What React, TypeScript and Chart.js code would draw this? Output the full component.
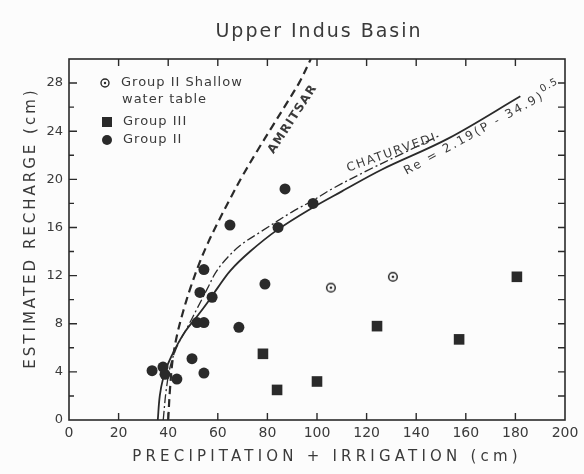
import React, { useEffect, useRef } from 'react';
import { Chart, registerables } from 'chart.js';

Chart.register(...registerables);

// ---- data ----
const xTickValues = [0, 20, 40, 60, 80, 100, 120, 140, 160, 180, 200];
const yTickLabels = [0, 4, 8, 12, 16, 20, 24, 28];

// Group II (filled circles)
const group2X = [33.5, 37.9, 38.7, 43.5, 49.6, 51.6, 54.4, 54.4, 68.5, 52.8, 57.7, 54.4, 79.0, 64.9, 84.3, 87.1, 98.4];
const group2Y = [4.1, 4.4, 3.8, 3.4, 5.1, 8.1, 8.1, 3.9, 7.7, 10.6, 10.2, 12.5, 11.3, 16.2, 16.0, 19.2, 18.0];

// Group III (filled squares)
const group3X = [78.2, 83.9, 100.0, 124.2, 157.3, 180.6];
const group3Y = [5.5, 2.5, 3.2, 7.8, 6.7, 11.9];

// Group II shallow water table (open circles)
const shallowX = [105.6, 130.6];
const shallowY = [11.0, 11.9];

// Fitted curve Re = 2.19(P-34.9)^0.5 (solid)
const fitX = [35.8, 36.6, 38, 40, 43, 47, 52, 56, 60, 65, 73, 84, 97, 110, 126, 153, 182];
const fitY = [0, 2.0, 3.5, 4.7, 6.0, 7.4, 8.7, 9.8, 11.0, 12.4, 14.0, 15.8, 17.5, 19.0, 20.8, 23.4, 26.9];

// Chaturvedi curve (dash-dot)
const chatX = [38, 39.2, 41, 44, 48, 52, 56, 59, 63, 69, 77, 90, 98, 106, 120, 135, 150];
const chatY = [0, 2.5, 4.6, 6.3, 7.8, 9.4, 11.0, 12.2, 13.3, 14.5, 15.6, 17.3, 18.2, 19.2, 20.7, 22.2, 23.7];

// Amritsar curve (dashed)
const amrX = [40, 40.7, 41.8, 43.5, 46, 49, 52.5, 56, 60, 65, 70, 76, 82, 88, 93, 97.5];
const amrY = [0, 2.5, 5, 7, 9, 11, 13, 14.7, 16.4, 18.4, 20.3, 22.4, 24.4, 26.4, 28.1, 30];

const INK = '#2a2a2a';
const TXT = '#3a3a3a';
const FAMILY = '"DejaVu Sans", "Liberation Sans", sans-serif';

function pts(xs: number[], ys: number[]) {
  return xs.map((x, i) => ({ x, y: ys[i] }));
}

function drawText(
  ctx: CanvasRenderingContext2D,
  s: string,
  px: number,
  py: number,
  font: string,
  angle = 0,
  spacing = 0,
  align: CanvasTextAlign = 'center'
) {
  ctx.save();
  ctx.translate(px, py);
  ctx.rotate(angle);
  ctx.font = font;
  (ctx as any).letterSpacing = spacing + 'px';
  ctx.textAlign = align;
  ctx.textBaseline = 'middle';
  ctx.fillStyle = TXT;
  ctx.fillText(s, 0, 0);
  ctx.restore();
}

function makeShallowSymbol(): HTMLCanvasElement {
  const c = document.createElement('canvas');
  c.width = 12;
  c.height = 12;
  const g = c.getContext('2d')!;
  g.strokeStyle = INK;
  g.lineWidth = 1.5;
  g.beginPath();
  g.arc(6, 6, 4.3, 0, Math.PI * 2);
  g.stroke();
  g.fillStyle = INK;
  g.beginPath();
  g.arc(6, 6, 1.3, 0, Math.PI * 2);
  g.fill();
  return c;
}

const annotPlugin = {
  id: 'annot',
  beforeDraw(chart: any) {
    const { ctx, width, height } = chart;
    ctx.save();
    ctx.fillStyle = '#fcfcfc';
    ctx.fillRect(0, 0, width, height);
    ctx.restore();
  },
  afterDraw(chart: any) {
    const { ctx, chartArea: a, scales } = chart;
    const xs = scales.x;
    const ys = scales.y;
    ctx.save();
    ctx.strokeStyle = INK;
    ctx.lineWidth = 1.6;
    ctx.strokeRect(a.left, a.top, a.right - a.left, a.bottom - a.top);
    ctx.lineWidth = 1.4;
    ctx.beginPath();
    xTickValues.forEach((v) => {
      if (v <= 0 || v >= 200) return;
      const px = xs.getPixelForValue(v);
      ctx.moveTo(px, a.bottom);
      ctx.lineTo(px, a.bottom - 7);
      ctx.moveTo(px, a.top);
      ctx.lineTo(px, a.top + 7);
    });
    for (let v = 2; v < 30; v += 2) {
      const py = ys.getPixelForValue(v);
      const l = yTickLabels.includes(v) ? 8 : 5;
      ctx.moveTo(a.left, py);
      ctx.lineTo(a.left + l, py);
      ctx.moveTo(a.right, py);
      ctx.lineTo(a.right - 7, py);
    }
    ctx.stroke();

    // title and axis titles
    drawText(ctx, 'Upper Indus Basin', 319, 32, `19px ${FAMILY}`, 0, 2.0);
    drawText(ctx, 'PRECIPITATION + IRRIGATION (cm)', 327, 457, `15px ${FAMILY}`, 0, 4.2);
    drawText(ctx, 'ESTIMATED RECHARGE (cm)', 31, 228, `15px ${FAMILY}`, -Math.PI / 2, 3.0);

    // legend
    const lf = `13px ${FAMILY}`;
    ctx.strokeStyle = INK;
    ctx.fillStyle = INK;
    ctx.lineWidth = 1.4;
    ctx.beginPath();
    ctx.arc(105, 83, 4, 0, Math.PI * 2);
    ctx.stroke();
    ctx.beginPath();
    ctx.arc(105, 83, 1.2, 0, Math.PI * 2);
    ctx.fill();
    ctx.fillRect(102, 117, 10, 10);
    ctx.beginPath();
    ctx.arc(107, 140, 5, 0, Math.PI * 2);
    ctx.fill();
    drawText(ctx, 'Group II Shallow', 121, 83, lf, 0, 1, 'left');
    drawText(ctx, 'water table', 122, 100, lf, 0, 1, 'left');
    drawText(ctx, 'Group III', 123, 122, lf, 0, 1, 'left');
    drawText(ctx, 'Group II', 123, 140, lf, 0, 1, 'left');

    // curve labels
    drawText(ctx, 'AMRITSAR', xs.getPixelForValue(90.2), ys.getPixelForValue(25.0), `bold 12px ${FAMILY}`, (-57 * Math.PI) / 180, 1.2);
    drawText(ctx, 'CHATURVEDI', xs.getPixelForValue(130.2), ys.getPixelForValue(22.2), `12px ${FAMILY}`, (-19.5 * Math.PI) / 180, 1.8);
    // Re equation
    ctx.save();
    ctx.translate(xs.getPixelForValue(135.5), ys.getPixelForValue(20.6));
    ctx.rotate((-29 * Math.PI) / 180);
    ctx.font = `12px ${FAMILY}`;
    (ctx as any).letterSpacing = '2.3px';
    ctx.textAlign = 'left';
    ctx.textBaseline = 'middle';
    ctx.fillStyle = TXT;
    const main = 'Re = 2.19(P - 34.9)';
    ctx.fillText(main, 0, 0);
    const w = ctx.measureText(main).width;
    ctx.font = `10px ${FAMILY}`;
    (ctx as any).letterSpacing = '1px';
    ctx.fillText('0.5', w, -6);
    ctx.restore();

    ctx.restore();
  },
};

export default function App() {
  const ref = useRef<HTMLCanvasElement | null>(null);

  useEffect(() => {
    document.body.style.margin = '0';
    if (!ref.current) return;
    const shallowSymbol = makeShallowSymbol();
    const lineBase = {
      showLine: true,
      pointRadius: 0,
      borderColor: INK,
      fill: false,
      tension: 0.35,
    };
    const chart = new Chart(ref.current, {
      type: 'scatter',
      data: {
        datasets: [
          { ...lineBase, label: 'Re fit', data: pts(fitX, fitY), borderWidth: 1.8, order: 5 },
          { ...lineBase, label: 'Chaturvedi', data: pts(chatX, chatY), borderWidth: 1.3, borderDash: [9, 3, 2, 3], order: 5 },
          { ...lineBase, label: 'Amritsar', data: pts(amrX, amrY), borderWidth: 2.2, borderDash: [8, 5], order: 5 },
          {
            label: 'Group II',
            data: pts(group2X, group2Y),
            pointStyle: 'circle',
            pointRadius: 5.5,
            backgroundColor: INK,
            borderWidth: 0,
            order: 1,
          },
          {
            label: 'Group III',
            data: pts(group3X, group3Y),
            pointStyle: 'rect',
            pointRadius: 7.5,
            backgroundColor: INK,
            borderWidth: 0,
            order: 1,
          },
          {
            label: 'Group II Shallow water table',
            data: pts(shallowX, shallowY),
            pointStyle: shallowSymbol as any,
            pointRadius: 6,
            order: 1,
          },
        ],
      },
      options: {
        animation: false,
        responsive: false,
        events: [],
        layout: { padding: { top: 59, right: 19, left: 0, bottom: 0 } },
        plugins: {
          legend: { display: false },
          tooltip: { enabled: false },
          title: { display: false },
        },
        scales: {
          x: {
            type: 'linear',
            min: 0,
            max: 200,
            ticks: {
              stepSize: 20,
              autoSkip: false,
              maxRotation: 0,
              padding: 5,
              color: TXT,
              font: { family: FAMILY, size: 14 },
              callback: (v: any) => (xTickValues.includes(Number(v)) ? String(v) : ''),
            },
            grid: { display: false, drawTicks: false },
            border: { display: false },
            afterFit: (s: any) => {
              s.height = 54;
            },
          },
          y: {
            type: 'linear',
            min: 0,
            max: 30,
            ticks: {
              stepSize: 2,
              autoSkip: false,
              padding: 6,
              color: TXT,
              font: { family: FAMILY, size: 13 },
              callback: (v: any) => (yTickLabels.includes(Number(v)) ? String(v) : ''),
            },
            grid: { display: false, drawTicks: false },
            border: { display: false },
            afterFit: (s: any) => {
              s.width = 69;
            },
          },
        },
      },
      plugins: [annotPlugin],
    });
    return () => chart.destroy();
  }, []);

  return (
    <canvas
      ref={ref}
      width={584}
      height={474}
      style={{ position: 'fixed', left: 0, top: 0, width: 584, height: 474 }}
    />
  );
}
